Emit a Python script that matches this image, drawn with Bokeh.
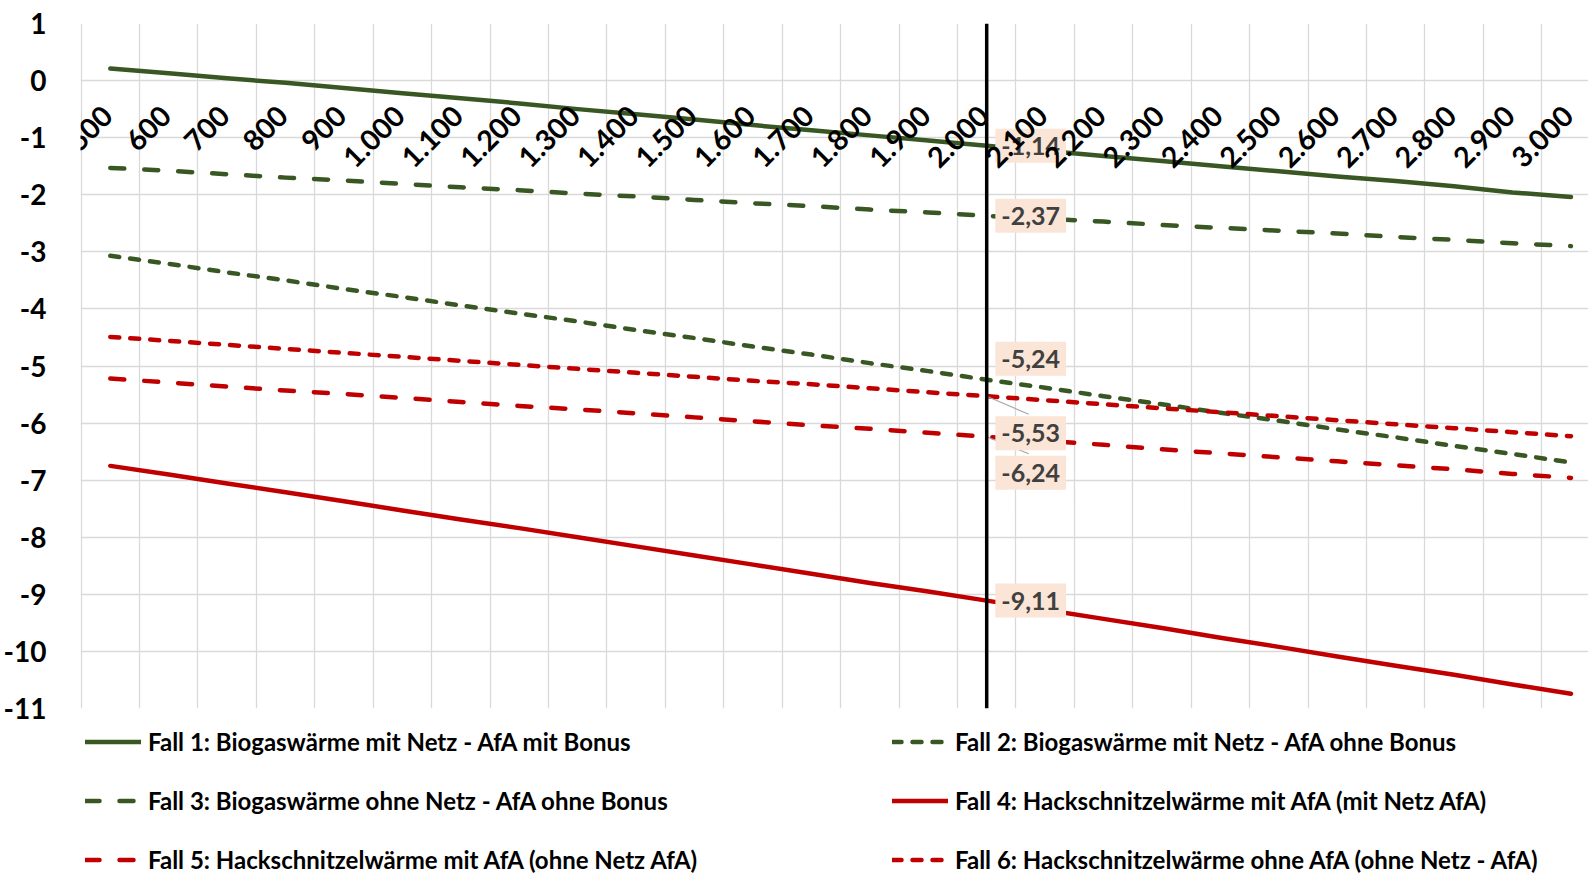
import math

from bokeh.core.properties import value
from bokeh.embed import file_html
from bokeh.layouts import column
from bokeh.models import (ColumnDataSource, FixedTicker, Legend, LegendItem,
                          PrintfTickFormatter, Range1d, Span)
from bokeh.plotting import figure
from bokeh.resources import INLINE

# Wärmeabnahme (categories, German thousands separator)
categories = ["500", "600", "700", "800", "900", "1.000", "1.100", "1.200",
              "1.300", "1.400", "1.500", "1.600", "1.700", "1.800", "1.900",
              "2.000", "2.100", "2.200", "2.300", "2.400", "2.500", "2.600",
              "2.700", "2.800", "2.900", "3.000"]

fall1 = [0.21, 0.13, 0.04, -0.04, -0.13, -0.22, -0.31, -0.40, -0.50, -0.59,
         -0.68, -0.78, -0.87, -0.96, -1.05, -1.14, -1.23, -1.32, -1.41, -1.50,
         -1.59, -1.68, -1.76, -1.85, -1.96, -2.04]
fall2 = [-3.07, -3.21, -3.36, -3.50, -3.65, -3.79, -3.94, -4.08, -4.22, -4.37,
         -4.51, -4.66, -4.80, -4.95, -5.09, -5.24, -5.38, -5.53, -5.67, -5.82,
         -5.96, -6.11, -6.25, -6.40, -6.54, -6.69]
fall3 = [-1.53, -1.58, -1.64, -1.70, -1.75, -1.81, -1.87, -1.92, -1.98, -2.03,
         -2.09, -2.15, -2.20, -2.26, -2.31, -2.37, -2.42, -2.47, -2.53, -2.58,
         -2.63, -2.68, -2.74, -2.79, -2.85, -2.90]
fall4 = [-6.75, -6.90, -7.06, -7.21, -7.37, -7.53, -7.69, -7.84, -8.00, -8.16,
         -8.32, -8.48, -8.64, -8.80, -8.95, -9.11, -9.27, -9.43, -9.59, -9.76,
         -9.92, -10.09, -10.25, -10.41, -10.58, -10.74]
fall5 = [-5.22, -5.29, -5.36, -5.43, -5.49, -5.56, -5.63, -5.70, -5.76, -5.83,
         -5.90, -5.97, -6.04, -6.10, -6.17, -6.24, -6.31, -6.38, -6.46, -6.53,
         -6.60, -6.67, -6.74, -6.81, -6.89, -6.96]
fall6 = [-4.49, -4.56, -4.63, -4.70, -4.77, -4.84, -4.91, -4.98, -5.05, -5.12,
         -5.19, -5.26, -5.32, -5.39, -5.46, -5.53, -5.60, -5.67, -5.74, -5.81,
         -5.88, -5.95, -6.02, -6.09, -6.16, -6.23]

series_names = [
    "Fall 1: Biogaswärme mit Netz - AfA mit Bonus",
    "Fall 2: Biogaswärme mit Netz - AfA ohne Bonus",
    "Fall 3: Biogaswärme ohne Netz - AfA ohne Bonus",
    "Fall 4: Hackschnitzelwärme mit AfA (mit Netz AfA)",
    "Fall 5: Hackschnitzelwärme mit AfA (ohne Netz AfA)",
    "Fall 6: Hackschnitzelwärme ohne AfA (ohne Netz - AfA)",
]
series_values = [fall1, fall2, fall3, fall4, fall5, fall6]

y_ticks = [1, 0, -1, -2, -3, -4, -5, -6, -7, -8, -9, -10, -11]
marker_category = "2.000"

# ---- styling -------------------------------------------------------------
GREEN = "#385723"
RED = "#C00000"
GRID = "#D9D9D9"
LABEL_FILL = "#FBE5D6"
LABEL_TEXT = "#404040"
FONT = "Lato"

styles = [
    dict(color=GREEN, dash="solid"),
    dict(color=GREEN, dash="9 11"),
    dict(color=GREEN, dash="14 20"),
    dict(color=RED, dash="solid"),
    dict(color=RED, dash="14 20"),
    dict(color=RED, dash="9 11"),
]
# label offsets (pixels) next to the marker line, per series
label_dx = 44
label_dy = [0, -21, 0, 0, 36, 37]
LINE_W = 4.5

W = 1588
H_CHART, H_LEGEND = 727, 147
LEFT, TOP, BOTTOM = 79, 23, 19

n = len(categories)
xs = list(range(n))
m = categories.index(marker_category)

x_start, x_end = -0.51, n - 0.7
y_start, y_end = min(y_ticks), max(y_ticks)

p = figure(width=W, height=H_CHART, output_backend="svg", toolbar_location=None,
           x_range=Range1d(x_start, x_end), y_range=Range1d(y_start, y_end),
           x_axis_location=None,
           min_border_left=LEFT, min_border_right=0,
           min_border_top=TOP, min_border_bottom=BOTTOM)
p.outline_line_color = None
p.background_fill_color = "white"
p.border_fill_color = "white"

# y axis
ax = p.yaxis[0]
ax.ticker = FixedTicker(ticks=y_ticks)
ax.formatter = PrintfTickFormatter(format="%d")
ax.axis_line_color = None
ax.major_tick_line_color = None
ax.minor_tick_line_color = None
ax.major_label_standoff = 28
ax.major_label_text_font = FONT
ax.major_label_text_font_style = "bold"
ax.major_label_text_font_size = "28px"
ax.major_label_text_color = "black"

p.ygrid.ticker = FixedTicker(ticks=y_ticks)
p.ygrid.grid_line_color = GRID
p.ygrid.grid_line_width = 1.3

# vertical grid lines sit between categories
p.xgrid.ticker = FixedTicker(ticks=[i - 0.5 for i in range(n + 1)])
p.xgrid.grid_line_color = GRID
p.xgrid.grid_line_width = 1.3

# series
for vals, st in zip(series_values, styles):
    p.line(xs, vals, line_color=st["color"], line_width=LINE_W,
           line_dash=st["dash"], line_cap="round", line_join="round")

# marker line at the highlighted category
p.add_layout(Span(location=m, dimension="height", line_color="black",
                  line_width=3.5))

# leader lines for the labels pushed below their point
px_x = (W - LEFT) / (x_end - x_start)
px_y = (H_CHART - TOP - BOTTOM) / (y_end - y_start)
lead = [i for i in range(len(series_values)) if label_dy[i] > 20]
p.segment(x0=[m] * len(lead),
          y0=[series_values[i][m] for i in lead],
          x1=[m + (label_dx - 2) / px_x] * len(lead),
          y1=[series_values[i][m] - (label_dy[i] - 19) / px_y for i in lead],
          line_color="#A6A6A6", line_width=1.2)

# value labels at the marker category
lab = ColumnDataSource(dict(
    x=[m] * len(series_values),
    y=[v[m] for v in series_values],
    text=[f"{v[m]:.2f}".replace(".", ",") for v in series_values],
    dx=[label_dx] * len(series_values),
    dy=label_dy,
))
p.text(x="x", y="y", text="text", source=lab, x_offset="dx", y_offset="dy",
       text_align="center", text_baseline="middle",
       text_font=value(FONT), text_font_style="bold", text_font_size="25px",
       text_color=LABEL_TEXT, background_fill_color=LABEL_FILL, padding=(6, 8))

# category labels hanging below the zero line, rotated
p.text(x=xs, y=[0] * n, text=categories, angle=math.pi / 4,
       text_align="right", text_baseline="middle", x_offset=-3, y_offset=30,
       text_font=value(FONT), text_font_style="bold", text_font_size="28.5px",
       text_color="black")

# legend strip below the chart (key glyphs sit outside its visible range)
lg = figure(width=W, height=H_LEGEND, output_backend="svg", toolbar_location=None,
            x_range=Range1d(0, 1), y_range=Range1d(0, 1),
            x_axis_location=None, y_axis_location=None,
            min_border=0, outline_line_color=None)
lg.xgrid.visible = False
lg.ygrid.visible = False
keys = []
for st in styles:
    keys.append(lg.line([5, 6], [5, 6], line_color=st["color"], line_width=LINE_W,
                        line_dash=st["dash"], line_cap="round"))

legend = Legend(
    items=[LegendItem(label=nm, renderers=[r]) for nm, r in zip(series_names, keys)],
    location=(5, 0), orientation="horizontal", ncols=2,
    glyph_width=56, glyph_height=29, label_height=29, label_width=714,
    label_standoff=7, spacing=30, padding=0, margin=0,
    border_line_color=None, background_fill_alpha=0,
    label_text_font=FONT, label_text_font_style="bold",
    label_text_font_size="24px", label_text_color="black",
)
lg.add_layout(legend)

page = column(p, lg, spacing=0)
open("out.html", "w").write(file_html(page, INLINE))
